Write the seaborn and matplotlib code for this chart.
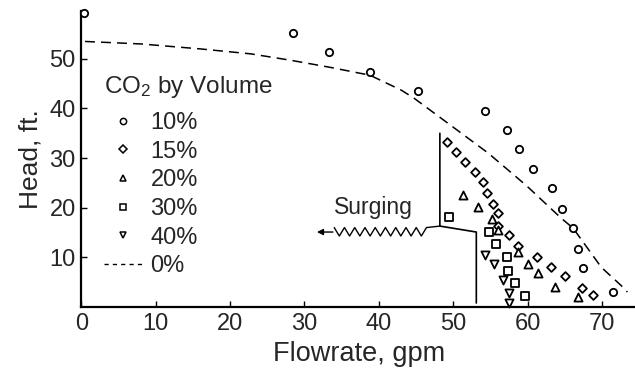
import numpy as np
import pandas as pd
import seaborn as sns
import matplotlib.pyplot as plt
from matplotlib.lines import Line2D

# CO2 by volume -> (flowrate gpm, head ft)
flow_10 = [0.3, 28.4, 33.3, 38.8, 45.3, 54.3, 57.2, 58.9, 60.7, 63.3, 64.6, 66.1, 66.8, 67.5, 71.5]
head_10 = [59.2, 55.3, 51.3, 47.3, 43.5, 39.4, 35.6, 31.8, 27.8, 23.9, 19.7, 15.9, 11.7, 7.8, 3.0]

flow_15 = [49.2, 50.4, 51.6, 52.9, 54.0, 54.5, 55.3, 56.0, 56.0, 57.5, 58.7, 61.3, 63.1, 65.0, 67.3, 68.8]
head_15 = [33.2, 31.2, 29.2, 27.2, 25.2, 22.9, 20.7, 18.9, 16.3, 14.5, 12.3, 10.1, 8.0, 6.2, 3.8, 2.4]

flow_20 = [51.3, 53.3, 55.2, 56.0, 58.7, 60.1, 61.4, 63.7, 66.8]
head_20 = [22.5, 20.1, 17.7, 15.5, 11.1, 8.7, 6.8, 4.0, 2.0]

flow_30 = [49.4, 54.8, 55.8, 57.2, 57.4, 58.3, 59.7]
head_30 = [18.1, 15.1, 12.7, 10.1, 7.2, 4.8, 2.2]

flow_40 = [54.2, 55.5, 56.7, 57.5, 57.5]
head_40 = [10.5, 8.7, 5.4, 2.8, 0.8]

# 0% curve (dashed)
flow_0 = [0.5, 8, 16, 22.8, 28.2, 33.4, 38.8, 43.0, 44.7, 48.4, 54.7, 59.8, 64.5, 66.1, 69.9, 72.8, 73.4]
head_0 = [53.5, 53.0, 52.0, 51.0, 49.7, 48.3, 46.7, 43.7, 42.1, 38.0, 31.0, 24.5, 17.9, 15.9, 8.0, 4.0, 3.0]

series = {
    "10%": (flow_10, head_10, "o"),
    "15%": (flow_15, head_15, "D"),
    "20%": (flow_20, head_20, "^"),
    "30%": (flow_30, head_30, "s"),
    "40%": (flow_40, head_40, "v"),
}

sns.set_theme(style="ticks")
plt.rcParams["font.family"] = ["Liberation Sans", "DejaVu Sans"]
plt.rcParams["mathtext.fontset"] = "custom"
plt.rcParams["mathtext.rm"] = "Liberation Sans"
plt.rcParams["mathtext.default"] = "rm"

fig = plt.figure(figsize=(6.35, 3.73), dpi=100)
ax = fig.add_axes([0.128, 0.177, 0.874, 0.793])

for name, (fx, hy, mk) in series.items():
    df = pd.DataFrame({"flow": fx, "head": hy})
    ms = 28 if mk in ("o", "D") else 34
    if mk == "D":
        ms = 20
    sns.scatterplot(data=df, x="flow", y="head", marker=mk, s=ms, facecolor="white",
                    edgecolor="black", linewidth=1.3, ax=ax, zorder=3, clip_on=False)

df0 = pd.DataFrame({"flow": flow_0, "head": head_0})
sns.lineplot(data=df0, x="flow", y="head", sort=False, color="black", lw=1.1,
             dashes=False, ax=ax, zorder=2)
ax.lines[-1].set_linestyle((0, (6.5, 4)))

# surge boundary and arrow
ax.plot([48.2, 48.2, 53.1, 53.1], [35.0, 16.3, 15.1, 0.8], color="black", lw=1.2)
zx = np.linspace(46.4, 34.0, 19)
zy = np.where(np.arange(19) % 2 == 0, 16.0, 14.3)
zx = np.concatenate([[48.2], zx])
zy = np.concatenate([[16.3], zy])
ax.plot(zx, zy, color="black", lw=1.0)
ax.annotate("", xy=(31.3, 15.1), xytext=(34.2, 15.1),
            arrowprops=dict(arrowstyle="-|>", color="black", lw=1.0, mutation_scale=9))
ax.text(34.0, 17.8, "Surging", fontsize=16.5, ha="left", va="bottom")

ax.set_xlim(0, 74.6)
ax.set_ylim(0, 59.6)
ax.set_xticks(range(0, 80, 10))
ax.set_yticks(range(10, 60, 10))
ax.tick_params(direction="in", length=4, width=1, labelsize=17, pad=4, color="black")
ax.set_xlabel("Flowrate, gpm", fontsize=19.5, labelpad=5)
ax.set_ylabel("Head, ft.", fontsize=19, labelpad=5)
for side in ("top", "right"):
    ax.spines[side].set_visible(False)
for side in ("left", "bottom"):
    ax.spines[side].set_linewidth(1.6)
    ax.spines[side].set_color("black")

handles = [Line2D([], [], marker=series[k][2], ls="", mfc="white", mec="black",
                  ms=4.5, mew=1.1) for k in series]
handles.append(Line2D([], [], ls=(0, (3, 3)), color="black", lw=1.0))
labels = list(series.keys()) + ["0%"]
leg = ax.legend(handles, labels, title="CO$_2$ by Volume", loc="upper left",
                bbox_to_anchor=(0.012, 0.845), frameon=False, fontsize=17,
                title_fontsize=17.5, labelspacing=0.28, handlelength=1.6,
                handletextpad=0.35, borderpad=0.2, alignment="left")
leg._legend_box.sep = 9

fig.savefig("out.png", dpi=100)
